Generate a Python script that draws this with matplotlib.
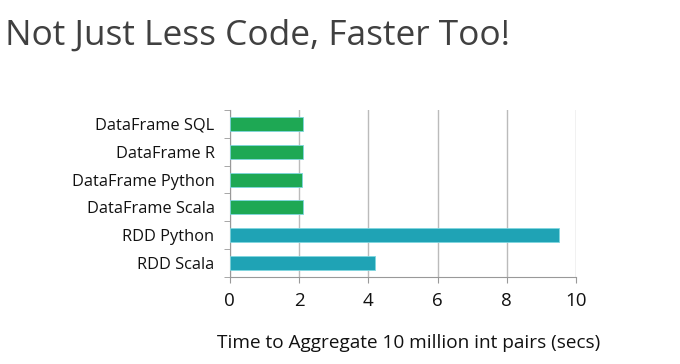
import matplotlib
matplotlib.use('Agg')
import matplotlib.pyplot as plt
import numpy as np

plt.rcParams['font.family'] = ['Open Sans', 'DejaVu Sans']

categories = ['RDD Scala', 'RDD Python', 'DataFrame Scala', 'DataFrame Python',
              'DataFrame R', 'DataFrame SQL']
seconds = [4.2, 9.5, 2.1, 2.08, 2.1, 2.1]
colors = ['#1fa3b5', '#1fa3b5', '#1ea854', '#1ea854', '#1ea854', '#1ea854']
xticks = [0, 2, 4, 6, 8, 10]

fig = plt.figure(figsize=(6.8, 3.64), dpi=100)
ax = fig.add_axes([0.338, 0.239, 0.509, 0.459])

y = np.arange(len(categories))
ax.barh(y, seconds, height=0.5, color=colors, edgecolor='#7fd6df', linewidth=0.6, zorder=3)
ax.set_yticks(y)
ax.set_yticklabels(categories, fontsize=11.8, color='#111111')
ax.set_yticks(np.arange(len(categories) + 1) - 0.5, minor=True)
ax.tick_params(axis='y', which='major', length=0, pad=11)
ax.tick_params(axis='y', which='minor', length=4, color='#999999')
ax.set_ylim(-0.5, len(categories) - 0.5)

ax.set_xlim(0, 10)
ax.set_xticks(xticks)
ax.set_xticklabels([str(t) for t in xticks], fontsize=13.5, color='#111111')
ax.tick_params(axis='x', length=4, color='#999999', pad=7)
ax.grid(axis='x', color='#bbbbbb', linewidth=1, zorder=0)
ax.set_xlabel('Time to Aggregate 10 million int pairs (secs)', fontsize=13.7,
              color='#111111')
ax.xaxis.set_label_coords(0.517, -0.34)

for s in ['top', 'right']:
    ax.spines[s].set_visible(False)
for s in ['left', 'bottom']:
    ax.spines[s].set_color('#999999')

fig.text(0.008, 0.878, 'Not Just Less Code, Faster Too!', fontsize=25.4,
         color='#404040', ha='left', va='baseline')

fig.savefig('out.png', dpi=100, facecolor='white')
